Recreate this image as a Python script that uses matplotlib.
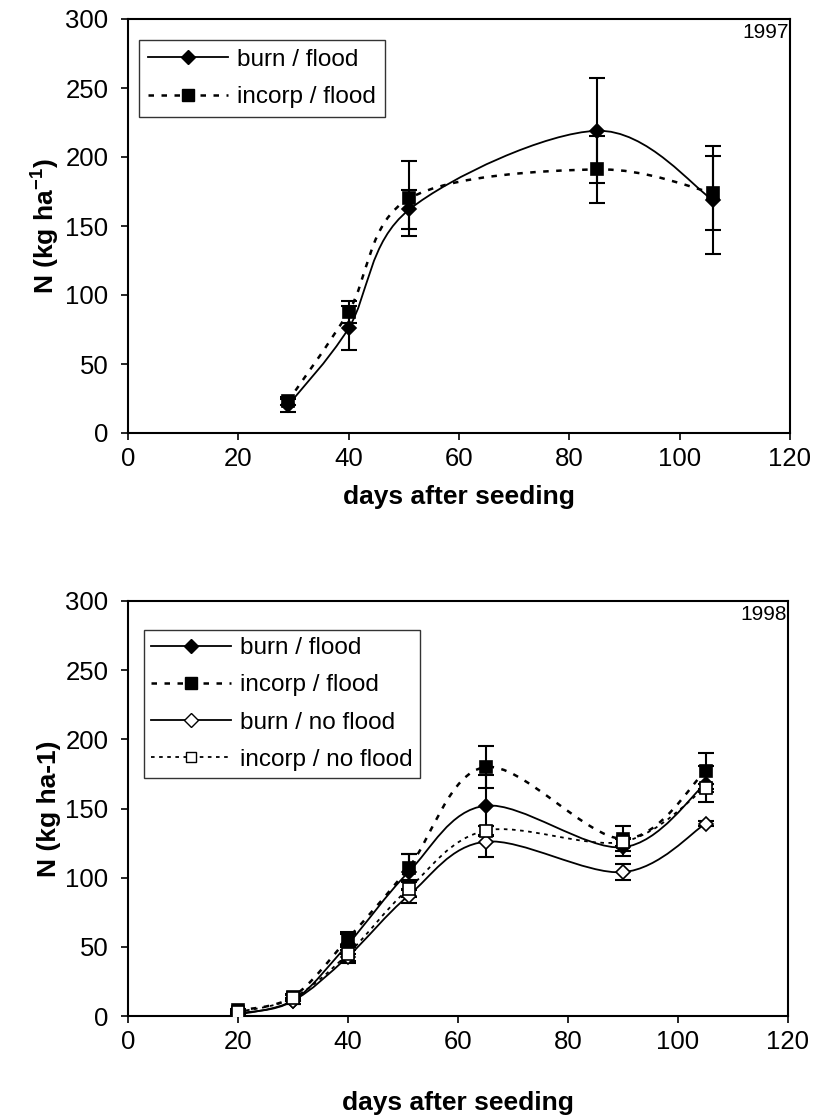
import numpy as np
import matplotlib
matplotlib.use("Agg")
import matplotlib.pyplot as plt
from matplotlib.path import Path
from matplotlib.patches import PathPatch
from matplotlib.lines import Line2D

plt.rcParams['font.family'] = ['Liberation Sans', 'DejaVu Sans']
plt.rcParams['mathtext.fontset'] = 'custom'
plt.rcParams['mathtext.rm'] = 'Liberation Sans:bold'
plt.rcParams['mathtext.bf'] = 'Liberation Sans:bold'

# ---- 1997 data ----
days97 = [29, 40, 51, 85, 106]
burn_flood97 = [20, 76, 162, 219, 169]
burn_flood97_err = [5, 16, 14, 38, 39]
incorp_flood97 = [23, 88, 170, 191, 174]
incorp_flood97_err = [3, 8, 27, 24, 27]

# ---- 1998 data ----
days98 = [20, 30, 40, 51, 65, 90, 105]
burn_flood98 = [2, 11, 52, 104, 152, 122, 168]
burn_flood98_err = [1, 2, 7, 13, 22, 6, 13]
incorp_flood98 = [4, 14, 56, 107, 180, 128, 177]
incorp_flood98_err = [1, 2, 5, 10, 15, 9, 13]
burn_noflood98 = [1, 11, 43, 87, 126, 104, 139]
burn_noflood98_err = [1, 2, 5, 5, 11, 6, 2]
incorp_noflood98 = [3, 13, 45, 92, 134, 126, 165]
incorp_noflood98_err = [1, 2, 5, 6, 3, 3, 3]

xticks = [0, 20, 40, 60, 80, 100, 120]
yticks = [0, 50, 100, 150, 200, 250, 300]

TICK_FS = 18.5
LEG_FS = 17.5
LAB_FS = 19
YEAR_FS = 15


def smooth_path(x, y):
    pts = np.column_stack([x, y]).astype(float)
    n = len(pts)
    verts = [pts[0]]
    codes = [Path.MOVETO]
    for i in range(n - 1):
        p0 = pts[i - 1] if i > 0 else pts[i]
        p1 = pts[i]
        p2 = pts[i + 1]
        p3 = pts[i + 2] if i + 2 < n else pts[i + 1]
        c1 = p1 + (p2 - p0) / 6.0
        c2 = p2 - (p3 - p1) / 6.0
        verts += [c1, c2, p2]
        codes += [Path.CURVE4] * 3
    return Path(verts, codes)


def draw_series(ax, x, y, err, marker, mfc, ls, lw):
    ax.add_patch(PathPatch(smooth_path(x, y), facecolor='none', edgecolor='black',
                           lw=lw, linestyle=ls, zorder=2))
    ax.errorbar(x, y, yerr=err, fmt='none', ecolor='black', elinewidth=1.5,
                capsize=5.5, capthick=1.5, zorder=3)
    msz = 7.5 if marker == 'D' else 8
    ax.plot(x, y, linestyle='none', marker=marker, markersize=msz, markerfacecolor=mfc,
            markeredgecolor='black', markeredgewidth=1.2, zorder=4)


def style_axes(ax):
    ax.set_xlim(0, 120)
    ax.set_ylim(0, 300)
    ax.set_xticks(xticks)
    ax.set_yticks(yticks)
    ax.tick_params(direction='out', length=5, width=1.2, labelsize=TICK_FS)
    ax.tick_params(axis='x', pad=5)
    ax.tick_params(axis='y', pad=9)
    for s in ax.spines.values():
        s.set_linewidth(1.5)
        s.set_color('black')


fig = plt.figure(figsize=(8.14, 11.19), dpi=100)

dash_ls = (0, (2.2, 3.0))
dot_ls = (0, (2.0, 2.5))

# ---- top panel ----
ax1 = fig.add_axes([128 / 814, 1 - 433 / 1119, 662 / 814, 414 / 1119])
draw_series(ax1, days97, burn_flood97, burn_flood97_err, 'D', 'black', '-', 1.3)
draw_series(ax1, days97, incorp_flood97, incorp_flood97_err, 's', 'black', dash_ls, 1.8)
style_axes(ax1)
ax1.set_xlabel('days after seeding', fontsize=LAB_FS, fontweight='bold', labelpad=10)
ax1.set_ylabel(r'N (kg ha$^{\mathbf{-1}}$)', fontsize=LAB_FS, fontweight='bold', labelpad=3)
ax1.text(0.998, 0.99, '1997', transform=ax1.transAxes, ha='right', va='top', fontsize=YEAR_FS)
h1 = [Line2D([], [], color='black', lw=1.3, ls='-', marker='D', ms=7.5, mfc='black', mec='black'),
      Line2D([], [], color='black', lw=1.8, ls=dash_ls, marker='s', ms=8, mfc='black', mec='black')]
leg1 = ax1.legend(h1, ['burn / flood', 'incorp / flood'], loc='upper left',
                  bbox_to_anchor=(0.016, 0.95), fontsize=LEG_FS, frameon=True, fancybox=False,
                  edgecolor='black', handlelength=3.3, borderpad=0.38, labelspacing=0.62,
                  handletextpad=0.35, borderaxespad=0)
leg1.get_frame().set_linewidth(1.0)

# ---- bottom panel ----
ax2 = fig.add_axes([128 / 814, 1 - 1016 / 1119, 660 / 814, 415 / 1119])
draw_series(ax2, days98, burn_flood98, burn_flood98_err, 'D', 'black', '-', 1.3)
draw_series(ax2, days98, incorp_flood98, incorp_flood98_err, 's', 'black', dash_ls, 1.8)
draw_series(ax2, days98, burn_noflood98, burn_noflood98_err, 'D', 'white', '-', 1.3)
draw_series(ax2, days98, incorp_noflood98, incorp_noflood98_err, 's', 'white', dot_ls, 1.3)
style_axes(ax2)
ax2.set_xlabel('days after seeding', fontsize=LAB_FS, fontweight='bold', labelpad=27)
ax2.set_ylabel('N (kg ha-1)', fontsize=LAB_FS, fontweight='bold', labelpad=3)
ax2.text(0.998, 0.99, '1998', transform=ax2.transAxes, ha='right', va='top', fontsize=YEAR_FS)
h2 = [Line2D([], [], color='black', lw=1.3, ls='-', marker='D', ms=7.5, mfc='black', mec='black'),
      Line2D([], [], color='black', lw=1.8, ls=dash_ls, marker='s', ms=8, mfc='black', mec='black'),
      Line2D([], [], color='black', lw=1.3, ls='-', marker='D', ms=7.5, mfc='white', mec='black'),
      Line2D([], [], color='black', lw=1.3, ls=dot_ls, marker='s', ms=7, mfc='white', mec='black')]
leg2 = ax2.legend(h2, ['burn / flood', 'incorp / flood', 'burn / no flood', 'incorp / no flood'],
                  loc='upper left', bbox_to_anchor=(0.024, 0.93), fontsize=LEG_FS, frameon=True,
                  fancybox=False, edgecolor='black', handlelength=3.3, borderpad=0.3,
                  labelspacing=0.62, handletextpad=0.35, borderaxespad=0)
leg2.get_frame().set_linewidth(1.0)

fig.savefig('out.png', dpi=100)
